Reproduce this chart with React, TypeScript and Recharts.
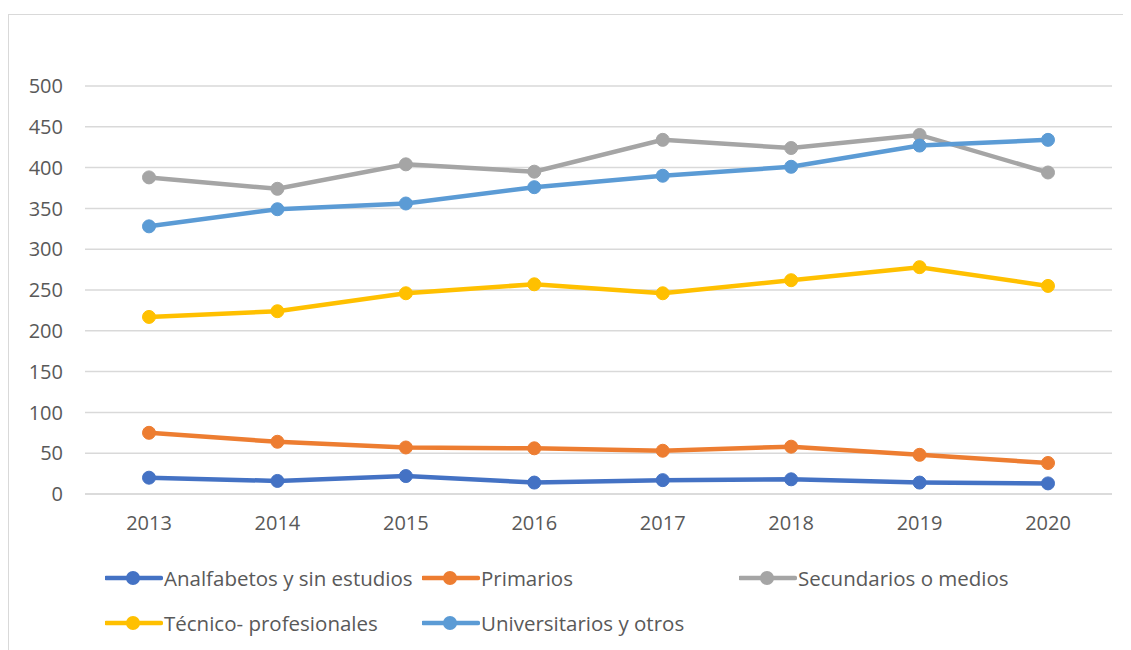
import { LineChart, Line, XAxis, YAxis, CartesianGrid } from 'recharts'

const years = ['2013', '2014', '2015', '2016', '2017', '2018', '2019', '2020']
const analfabetos = [20, 16, 22, 14, 17, 18, 14, 13]
const primarios = [75, 64, 57, 56, 53, 58, 48, 38]
const secundarios = [388, 374, 404, 395, 434, 424, 440, 394]
const tecnicos = [217, 224, 246, 257, 246, 262, 278, 255]
const universitarios = [328, 349, 356, 376, 390, 401, 427, 434]
const yTicks = [0, 50, 100, 150, 200, 250, 300, 350, 400, 450, 500]

const SERIES = [
  { key: 'analfabetos', name: 'Analfabetos y sin estudios', color: '#4472C4', values: analfabetos },
  { key: 'primarios', name: 'Primarios', color: '#ED7D31', values: primarios },
  { key: 'secundarios', name: 'Secundarios o medios', color: '#A5A5A5', values: secundarios },
  { key: 'tecnicos', name: 'Técnico- profesionales', color: '#FFC000', values: tecnicos },
  { key: 'universitarios', name: 'Universitarios y otros', color: '#5B9BD5', values: universitarios },
]

// legend slots, relative to the chart box
const LEGEND_POS = [
  { left: 96, top: 563 },
  { left: 413, top: 563 },
  { left: 730, top: 563 },
  { left: 96, top: 608 },
  { left: 413, top: 608 },
]

const FONT = '"Open Sans", sans-serif'
const TEXT = '#595959'

export default function App() {
  const data = years.map((year, i) => {
    const row: Record<string, string | number> = { year }
    for (const s of SERIES) row[s.key] = s.values[i]
    return row
  })

  return (
    <div
      style={{
        marginTop: 6,
        width: 1140,
        height: 650,
        border: '1px solid #d9d9d9',
        position: 'relative',
        fontFamily: FONT,
      }}
    >
      <LineChart width={1128} height={520} data={data} margin={{ top: 71, right: 25, bottom: 0, left: 0 }}>
        <CartesianGrid vertical={false} stroke="#d9d9d9" strokeWidth={1.5} />
        {/* half a category of padding on each side, like Excel's "between tick marks" */}
        <XAxis
          dataKey="year"
          padding={{ left: 64, right: 64 }}
          axisLine={{ stroke: '#d9d9d9', strokeWidth: 1.5 }}
          tickLine={false}
          tickSize={0}
          tickMargin={22}
          height={41}
          tick={{ fill: TEXT, fontSize: 20, fontFamily: FONT }}
        />
        <YAxis
          domain={[0, 500]}
          ticks={yTicks}
          axisLine={false}
          tickLine={false}
          tickSize={0}
          tickMargin={22}
          width={76}
          tick={{ fill: TEXT, fontSize: 20, fontFamily: FONT }}
        />
        {SERIES.map(s => (
          <Line
            key={s.key}
            type="linear"
            dataKey={s.key}
            name={s.name}
            stroke={s.color}
            strokeWidth={4.5}
            dot={{ r: 6.5, fill: s.color, stroke: s.color, strokeWidth: 1 }}
            activeDot={false}
            isAnimationActive={false}
          />
        ))}
      </LineChart>

      {SERIES.map((s, i) => (
        <div
          key={s.key}
          style={{
            position: 'absolute',
            left: LEGEND_POS[i].left,
            top: LEGEND_POS[i].top - 15,
            height: 30,
            display: 'flex',
            alignItems: 'center',
            whiteSpace: 'nowrap',
          }}
        >
          <svg width={58} height={30}>
            <line x1={1} y1={15} x2={56} y2={15} stroke={s.color} strokeWidth={4.5} strokeLinecap="round" />
            <circle cx={28} cy={15} r={7} fill={s.color} />
          </svg>
          <span style={{ color: TEXT, fontSize: 20.5, marginLeft: 1 }}>{s.name}</span>
        </div>
      ))}
    </div>
  )
}
